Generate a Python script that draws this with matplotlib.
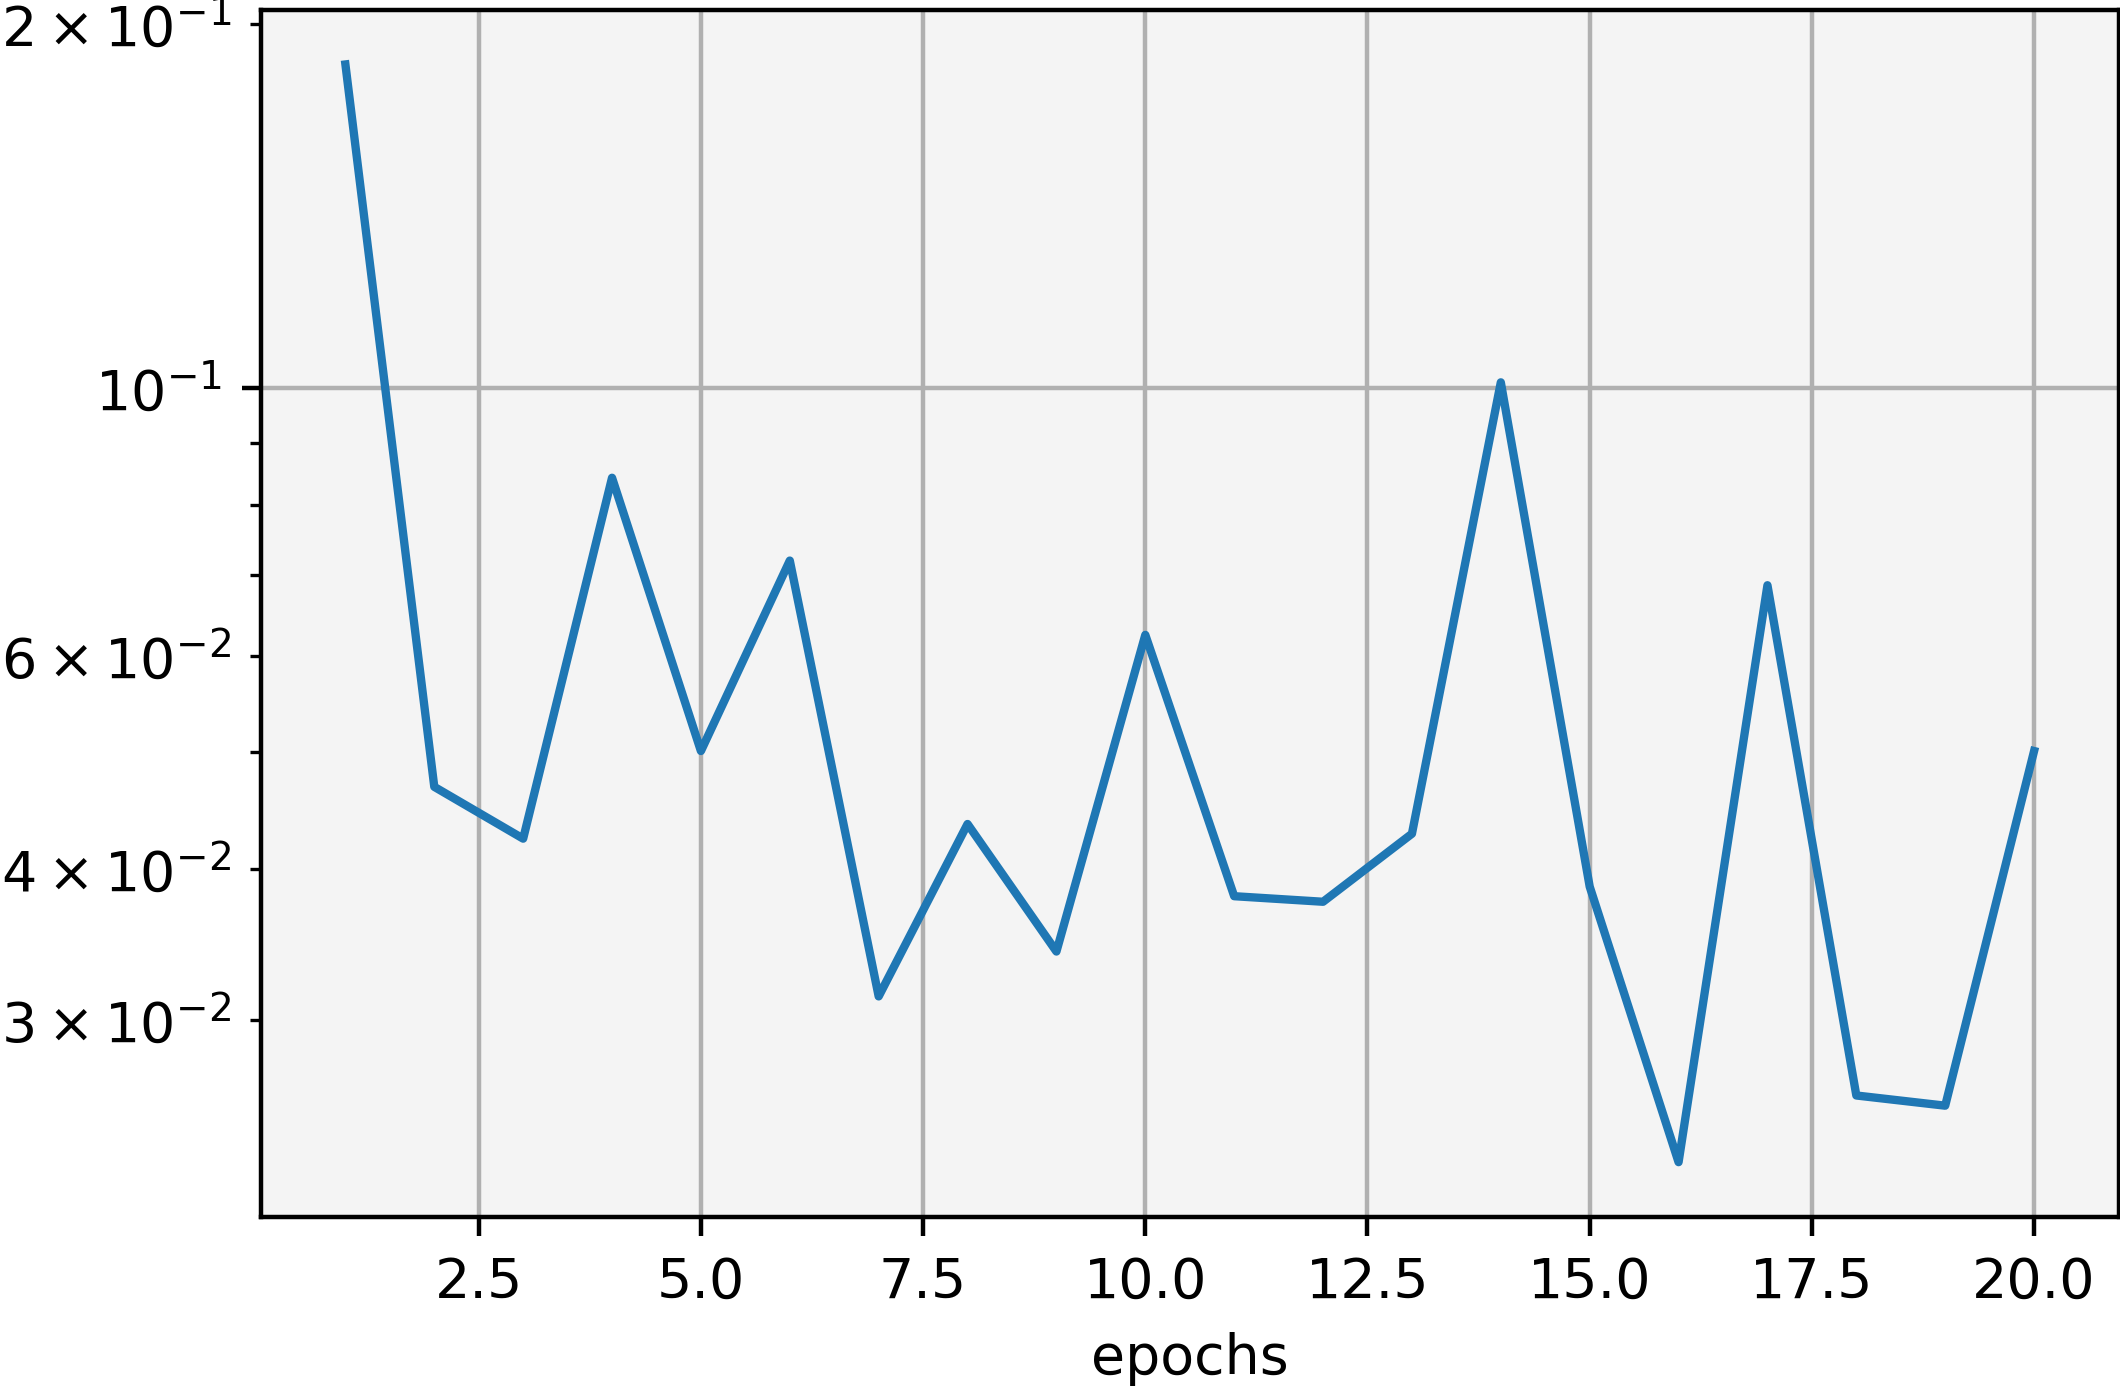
import matplotlib
matplotlib.use('Agg')
import matplotlib.pyplot as plt

plt.rcParams['font.family'] = 'DejaVu Sans'
plt.rcParams['font.size'] = 10

# loss per epoch (log scale)
epochs = list(range(1, 21))
loss = [0.1852, 0.0468, 0.0424, 0.0843, 0.0501, 0.0720, 0.0314, 0.0436,
        0.0342, 0.0625, 0.0380, 0.0376, 0.0428, 0.1011, 0.0387, 0.0229,
        0.0687, 0.0260, 0.0255, 0.0501]

fig = plt.figure(figsize=(5.3, 3.465), dpi=400)
fig.patch.set_facecolor('white')
ax = fig.add_axes([0.1231, 0.1219, 0.8762, 0.8712])
ax.set_facecolor('#f4f4f4')

ax.plot(epochs, loss, color='#1f77b4', lw=1.5)
ax.set_yscale('log')
ax.grid(True, which='major', color='#b0b0b0', lw=0.8)
ax.set_axisbelow(True)
ax.set_xlabel('epochs')

fig.savefig('out.png', dpi=400, facecolor='white')
